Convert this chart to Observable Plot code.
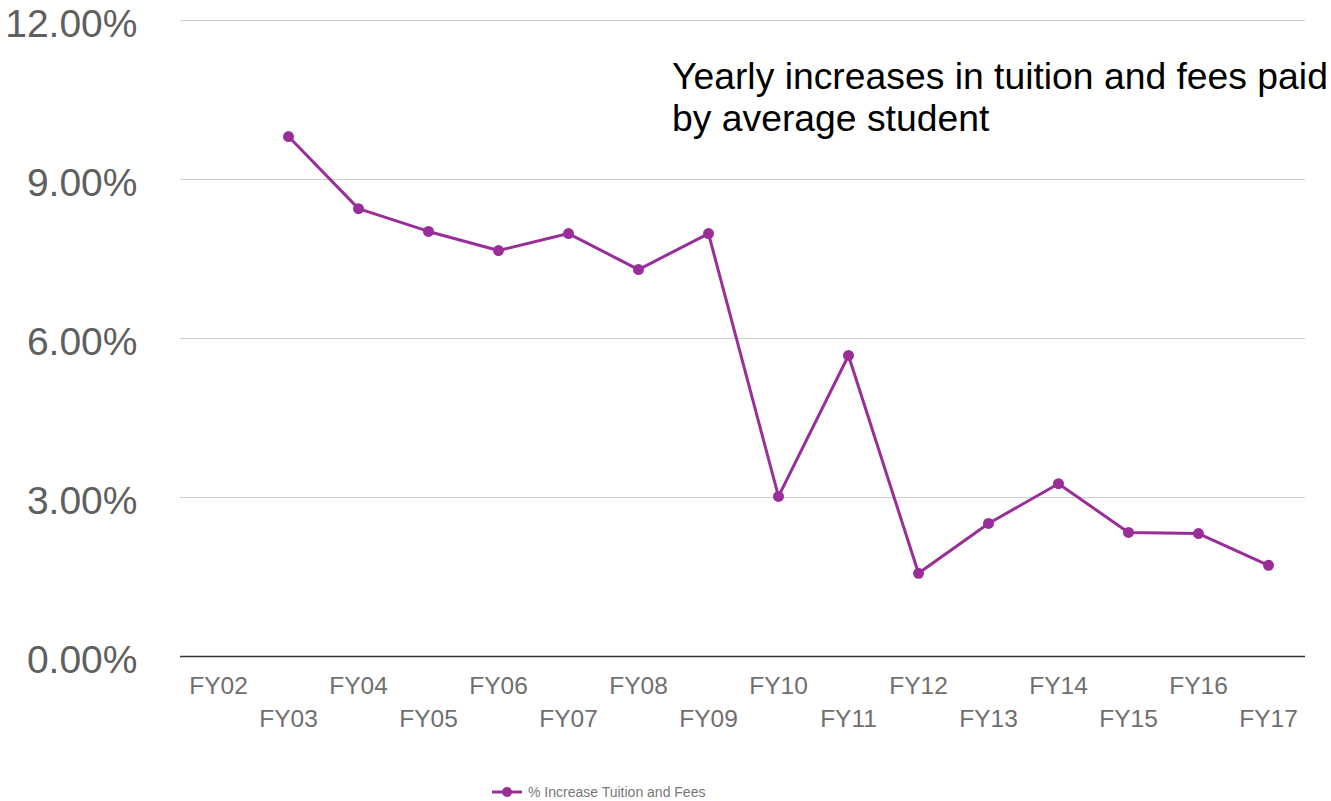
<!DOCTYPE html>
<html>
<head>
<meta charset="utf-8">
<script src="https://cdn.jsdelivr.net/npm/d3@7"></script>
<script src="https://cdn.jsdelivr.net/npm/@observablehq/plot@0.6"></script>
<style>
  html, body { margin: 0; padding: 0; background: #fff; }
  body { width: 1331px; height: 801px; position: relative; overflow: hidden; font-family: "Liberation Sans", Arial, sans-serif; }
  #chart svg { overflow: visible; }
  #note { position: absolute; left: 672px; top: 55px; font-size: 37.3px; line-height: 42px; color: #000; white-space: nowrap; }
  #legend { position: absolute; left: 490px; top: 782px; height: 20px; display: flex; align-items: center; font-size: 14px; color: #777; }
  #legend svg { margin-right: 5px; }
</style>
</head>
<body>
<div id="chart"></div>
<div id="note">Yearly increases in tuition and fees paid<br>by average student</div>
<div id="legend"><svg width="33" height="14"><line x1="2" y1="7" x2="32" y2="7" stroke="#992e99" stroke-width="3"/><circle cx="17" cy="7" r="5" fill="#992e99"/></svg>% Increase Tuition and Fees</div>
<script>
const years = ["FY02","FY03","FY04","FY05","FY06","FY07","FY08","FY09","FY10","FY11","FY12","FY13","FY14","FY15","FY16","FY17"];
const increases = [null, 9.81, 8.45, 8.02, 7.66, 7.98, 7.30, 7.98, 3.02, 5.68, 1.57, 2.51, 3.26, 2.34, 2.32, 1.72];
const yTicks = [0, 3, 6, 9, 12];

const data = years.map((y, i) => ({year: y, value: increases[i]}));
const pts = data.filter(d => d.value != null);
const evenYears = years.filter((_, i) => i % 2 === 0);
const oddYears = years.filter((_, i) => i % 2 === 1);
const color = "#992e99";

const chart = Plot.plot({
  width: 1331,
  height: 770,
  marginLeft: 180,
  marginRight: 26,
  marginTop: 20,
  marginBottom: 114,
  style: {fontFamily: "'Liberation Sans', Arial, sans-serif", background: "#fff", overflow: "visible"},
  x: {type: "band", domain: years, padding: 0},
  y: {domain: [0, 12]},
  marks: [
    Plot.gridY(yTicks, {stroke: "#cccccc", strokeOpacity: 1, strokeWidth: 1}),
    Plot.axisY(yTicks, {tickSize: 0, tickPadding: 43, dy: 4, tickFormat: d => d.toFixed(2) + "%", fontSize: 39, fill: "#5f5f5f", label: null}),
    Plot.axisX(evenYears, {tickSize: 0, tickPadding: 20, fontSize: 24.5, fill: "#6f6f6f", label: null}),
    Plot.axisX(oddYears, {tickSize: 0, tickPadding: 53, fontSize: 24.5, fill: "#6f6f6f", label: null}),
    Plot.ruleY([0], {stroke: "#333", strokeWidth: 1.5}),
    Plot.line(pts, {x: "year", y: "value", stroke: color, strokeWidth: 3}),
    Plot.dot(pts, {x: "year", y: "value", r: 5.5, fill: color, stroke: "none"})
  ]
});
document.getElementById("chart").appendChild(chart);
</script>
</body>
</html>
